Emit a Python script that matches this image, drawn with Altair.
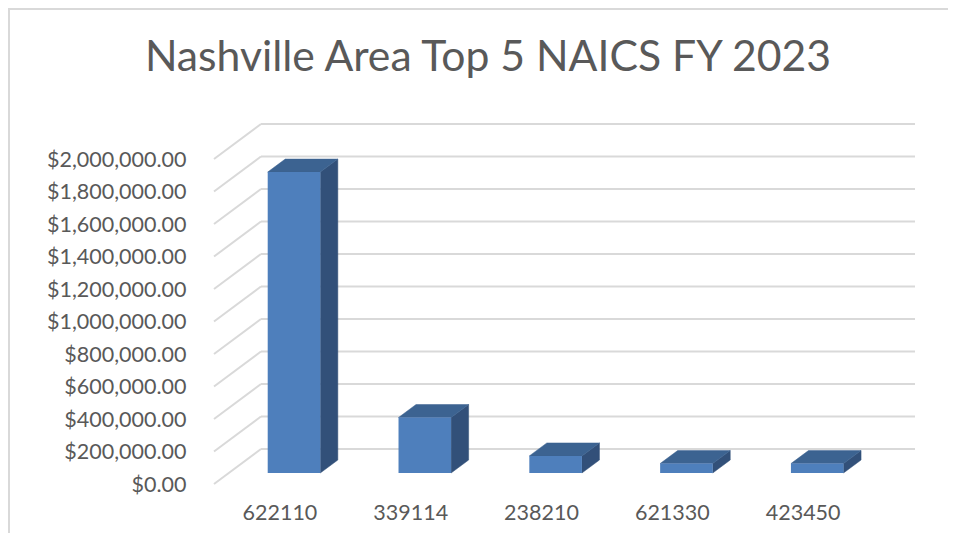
import altair as alt
import pandas as pd

TITLE = "Nashville Area Top 5 NAICS FY 2023"
naics = ["622110", "339114", "238210", "621330", "423450"]
values = [1852000, 341500, 105000, 58000, 58000]
ticks = [200000 * i for i in range(11)]

# Oblique projection of the 3-D chart, in data units (category slots / dollars)
WALL_DX, WALL_DY = 0.359, 215385   # depth of the whole chart box
BAR_DX, BAR_DY = 0.134, 80000      # depth of a column
FLOOR_DX, FLOOR_DY = 0.1116, 67692  # where a column stands on the floor
HALF = 0.201                       # half column width
XMAX, YMAX = 5 + WALL_DX, 2000000 + WALL_DY

GREY, TEXT = "#d9d9d9", "#595959"
FRONT, TOP, SIDE = "#4e7fbc", "#3c6391", "#325079"
FONT = "Lato"

x_s = alt.Scale(domain=[0, XMAX], nice=False, zero=False)
y_s = alt.Scale(domain=[0, YMAX], nice=False, zero=False)
x_axis = alt.Axis(
    values=[i + 0.5 for i in range(len(naics))],
    labelExpr="[" + ",".join(f"'{n}'" for n in naics) + "][floor(datum.value)]",
    domain=False, ticks=False, grid=False, labelPadding=18, labelFont=FONT,
    labelFontSize=21.5, labelColor=TEXT, title=None)
y_axis = alt.Axis(
    values=ticks, format="$,.2f", domain=False, ticks=False, grid=False,
    labelPadding=28, labelFont=FONT, labelFontSize=21.5, labelColor=TEXT,
    labelOverlap=False, labelOffset=1, title=None)
X = lambda f, **k: alt.X(f, type="quantitative", scale=x_s, axis=x_axis, **k)
Y = lambda f, **k: alt.Y(f, type="quantitative", scale=y_s, axis=y_axis, **k)

grid = pd.DataFrame({"x": WALL_DX, "x2": XMAX, "y": [t + WALL_DY for t in ticks]})
wall = pd.DataFrame(
    [{"t": t, "o": 0, "x": 0, "y": t} for t in ticks]
    + [{"t": t, "o": 1, "x": WALL_DX, "y": t + WALL_DY} for t in ticks]
)
front, side, top = [], [], []
for i, (n, v) in enumerate(zip(naics, values)):
    l = i + 0.5 + FLOOR_DX - HALF
    r = i + 0.5 + FLOOR_DX + HALF
    b, t = FLOOR_DY, FLOOR_DY + v
    front.append({"n": n, "x": l, "x2": r, "y": b, "y2": t})
    side += [
        {"n": n, "o": 0, "x": r, "y": b},
        {"n": n, "o": 1, "x": r + BAR_DX, "y": b + BAR_DY},
        {"n": n, "o": 2, "x": r + BAR_DX, "y": t + BAR_DY},
        {"n": n, "o": 3, "x": r, "y": t},
    ]
    top += [
        {"n": n, "o": 0, "x": l, "y": t},
        {"n": n, "o": 1, "x": r, "y": t},
        {"n": n, "o": 2, "x": r + BAR_DX, "y": t + BAR_DY},
        {"n": n, "o": 3, "x": l + BAR_DX, "y": t + BAR_DY},
    ]

grid_l = alt.Chart(grid).mark_rule(color=GREY, strokeWidth=2).encode(
    x=X("x"), x2="x2", y=Y("y"))
wall_l = alt.Chart(wall).mark_line(color=GREY, strokeWidth=2).encode(
    x=X("x"), y=Y("y"), detail="t:N", order="o:Q")
side_l = alt.Chart(pd.DataFrame(side)).mark_line(
    interpolate="linear-closed", fill=SIDE, stroke=SIDE, strokeWidth=0.5).encode(
    x=X("x"), y=Y("y"), detail="n:N", order="o:Q")
top_l = alt.Chart(pd.DataFrame(top)).mark_line(
    interpolate="linear-closed", fill=TOP, stroke=TOP, strokeWidth=0.5).encode(
    x=X("x"), y=Y("y"), detail="n:N", order="o:Q")
front_l = alt.Chart(pd.DataFrame(front)).mark_bar(color=FRONT).encode(
    x=X("x"), x2="x2", y=Y("y"), y2="y2")

one = pd.DataFrame({"a": [0]})
left_border = alt.Chart(one).mark_rule(color=GREY, strokeWidth=2, clip=False).encode(
    x=alt.value(-205), y=alt.value(-116), y2=alt.value(409))
top_border = alt.Chart(one).mark_rule(color=GREY, strokeWidth=2, clip=False).encode(
    x=alt.value(-206), x2=alt.value(734), y=alt.value(-115))
title_l = alt.Chart(pd.DataFrame({"title": [TITLE]})).mark_text(
    font=FONT, fontSize=42.7, color=TEXT, align="center", baseline="alphabetic", clip=False
).encode(text="title:N", x=alt.value(274), y=alt.value(-53))

chart = alt.layer(left_border, top_border, title_l, grid_l, wall_l, side_l, top_l, front_l).properties(
    width=701, height=360,
    padding={"left": 206, "top": 116, "right": 33, "bottom": 55},
    autosize=alt.AutoSizeParams(type="none"),
).configure_view(stroke=None)

chart.save("out.html", embed_options={"renderer": "svg", "actions": False})
